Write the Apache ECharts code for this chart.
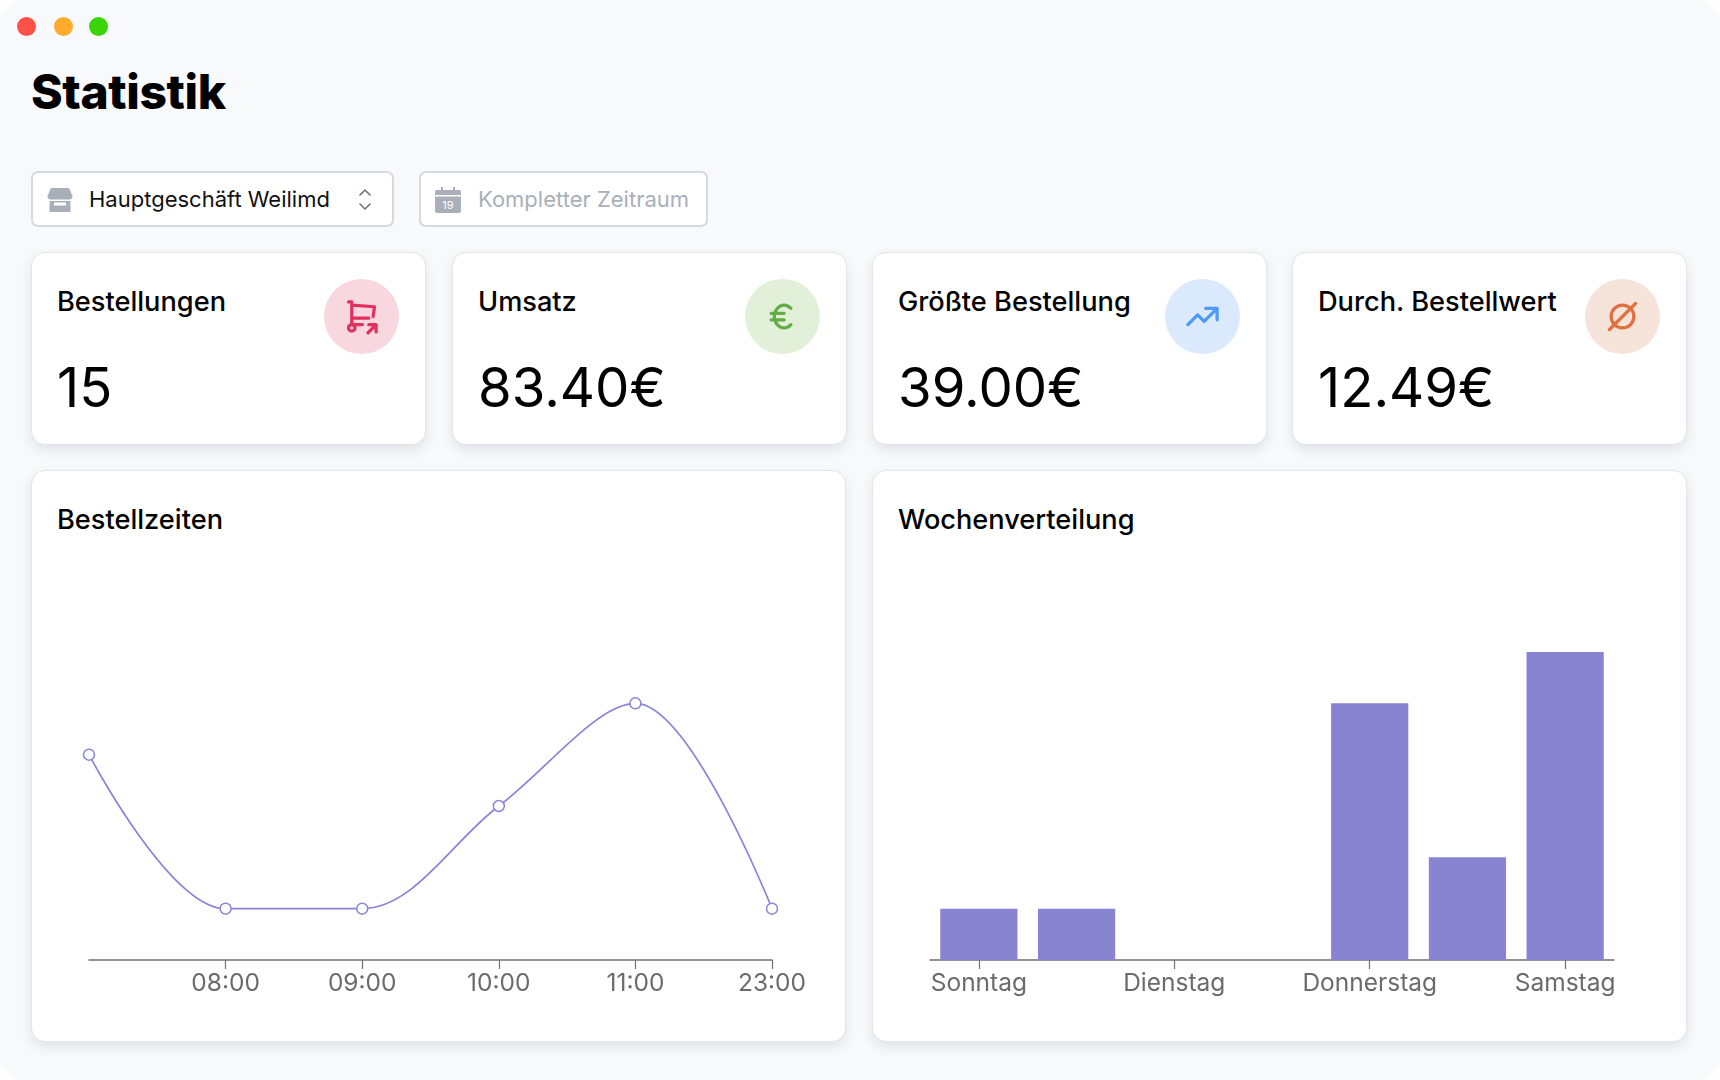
<!DOCTYPE html>
<html lang="de">

<head>
    <meta charset="UTF-8">
    <title>Statistik</title>
    <style>
        * { box-sizing: border-box; margin: 0; padding: 0; }
        html, body { width: 1720px; height: 1080px; background: #fff; overflow: hidden; }
        body { font-family: Inter, "Noto Sans", sans-serif; color: #000; }

        .window { position: absolute; left: 0; top: 0; width: 1720px; height: 1080px; background: #f8f9fb; border-radius: 22px; overflow: hidden; }
        .dot { position: absolute; top: 17px; width: 19px; height: 19px; border-radius: 50%; }
        h1 { position: absolute; left: 31px; top: 64px; font-size: 48px; line-height: 56px; font-weight: 800; letter-spacing: -0.4px; }

        .field { position: absolute; top: 171px; height: 56px; background: #fff; border: 2px solid #d5d9e0; border-radius: 7px; font-size: 22px; line-height: 52px; white-space: nowrap; }
        .field span { position: absolute; top: 0; overflow: hidden; }
        .field svg { position: absolute; }

        .card { position: absolute; background: #fff; border: 1px solid #e3e5ea; border-radius: 14px; box-shadow: 0 5px 12px rgba(30, 40, 60, .1); }
        .card .label { position: absolute; left: 25px; top: 31px; font-size: 27.200px; line-height: 36px; font-weight: 450; white-space: nowrap; }
        .card .value { position: absolute; left: 25px; top: 101px; font-size: 54.500px; line-height: 66px; font-weight: 400; }
        .badge { position: absolute; left: 292px; top: 26px; width: 75px; height: 75px; border-radius: 50%; }
        .badge svg { position: absolute; left: 18px; top: 18px; width: 39px; height: 39px; fill: none; stroke-width: 2; stroke-linecap: round; stroke-linejoin: round; }
        .chart { position: absolute; top: 560px; width: 814px; height: 470px; }
    </style>
    <script src="https://cdn.jsdelivr.net/npm/echarts@6/dist/echarts.min.js"></script>
</head>

<body>
    <div class="window" id="app">
        <div class="dot" style="left:17px;background:#ff5148"></div>
        <div class="dot" style="left:54px;background:#ffab2e"></div>
        <div class="dot" style="left:89px;background:#3ad40a"></div>
        <h1>Statistik</h1>

        <div class="field" style="left:31px;width:363px">
            <svg style="left:14px;top:15px" width="26" height="24" viewBox="0 0 26 24">
                <path d="M4 0h18l3.500 8a3 3 0 0 1-3 3.500H3.500a3 3 0 0 1-3-3.500z" fill="#a9afb9" />
                <path d="M2.500 13h21v11h-21zM7 14.500v3h12v-3z" fill="#a9afb9" fill-rule="evenodd" />
            </svg>
            <span style="left:56px;width:241px;color:#111">Hauptgeschäft Weilimdorf</span>
            <svg style="left:324px;top:16px" width="16" height="21" viewBox="0 0 16 21" fill="none" stroke="#6b7280" stroke-width="1.600" stroke-linecap="round" stroke-linejoin="round">
                <path d="M3 6l5-5 5 5M3 15l5 5 5-5" />
            </svg>
        </div>
        <div class="field" style="left:419px;width:289px">
            <svg style="left:14px;top:14px" width="26" height="26" viewBox="0 0 26 26">
                <path d="M2 3h4V0h2v3h10V0h2v3h4a2 2 0 0 1 2 2v3H0V5a2 2 0 0 1 2-2z" fill="#a9afb9" />
                <path d="M0 9.500h26V24a2 2 0 0 1-2 2H2a2 2 0 0 1-2-2z" fill="#a9afb9" />
                <text x="13" y="22" text-anchor="middle" font-size="11" fill="#fff">19</text>
            </svg>
            <span style="left:57px;color:#a9afb9">Kompletter Zeitraum</span>
        </div>

        <div class="card" style="left:31px;top:470px;width:815px;height:572px">
            <div class="label" id="lineTitle"></div>
        </div>
        <div class="card" style="left:872px;top:470px;width:815px;height:572px">
            <div class="label" id="barTitle"></div>
        </div>
        <div class="chart" id="lineChart" style="left:31px"></div>
        <div class="chart" id="barChart" style="left:873px"></div>
    </div>

    <script>
        // Kennzahlen
        var cardTitles = ['Bestellungen', 'Umsatz', 'Größte Bestellung', 'Durch. Bestellwert'];
        var cardValues = ['15', '83.40€', '39.00€', '12.49€'];

        // Bestellzeiten
        var hourLabels = ['', '08:00', '09:00', '10:00', '11:00', '23:00'];
        var hourCounts = [4, 1, 1, 3, 5, 1];

        // Wochenverteilung
        var weekdayLabels = ['Sonntag', 'Montag', 'Dienstag', 'Mittwoch', 'Donnerstag', 'Freitag', 'Samstag'];
        var weekdayCounts = [1, 1, 0, 0, 5, 2, 6];

        var chartTitles = ['Bestellzeiten', 'Wochenverteilung'];

        var cardLeft = [31, 452, 872, 1292];
        var badgeBg = ['#f8d7de', '#e2f0da', '#dbe9fd', '#f6e3da'];
        var iconColor = ['#e0315f', '#63ad47', '#4c9bf5', '#e0703f'];
        var iconPaths = [
            '<circle cx="6" cy="19" r="2"/><path d="M12.500 17h-6.500v-14h-2M6 5l14 1l-.86 6.017M16.500 13h-10.500M16 22l5-5M21 21.500v-4.500h-4.500"/>',
            '<path d="M17.200 7a6 7 0 1 0 0 10M13 10h-8m0 4h8"/>',
            '<path d="M3 17l6-6l4 4l8-8M14 7h7v7"/>',
            '<circle cx="12" cy="12" r="7"/><path d="M4 20L20 4"/>'
        ];

        // Karten oben
        var app = document.getElementById('app');
        cardTitles.forEach(function (title, i) {
            var card = document.createElement('div');
            card.className = 'card';
            card.style.cssText = 'left:' + cardLeft[i] + 'px;top:252px;width:395px;height:193px';
            card.innerHTML = '<div class="label">' + title + '</div>' +
                '<div class="value">' + cardValues[i] + '</div>' +
                '<div class="badge" style="background:' + badgeBg[i] + '">' +
                '<svg viewBox="0 0 24 24" stroke="' + iconColor[i] + '">' + iconPaths[i] + '</svg></div>';
            app.appendChild(card);
        });
        document.getElementById('lineTitle').textContent = chartTitles[0];
        document.getElementById('barTitle').textContent = chartTitles[1];

        var axisColor = '#707070';
        var labelStyle = { color: '#6b6b6b', fontSize: 24.5, fontFamily: 'Inter', margin: 11 };

        // Liniendiagramm
        var lineChart = echarts.init(document.getElementById('lineChart'));
        lineChart.setOption({
            animation: false,
            grid: { left: 58, width: 683, top: 92, height: 308 },
            xAxis: {
                type: 'category',
                boundaryGap: false,
                data: hourLabels,
                axisLine: { lineStyle: { color: axisColor, width: 1.5 } },
                axisTick: {
                    show: true,
                    length: 9,
                    interval: function (i, label) { return label !== ''; },
                    lineStyle: { color: axisColor, width: 1.2 }
                },
                axisLabel: Object.assign({ interval: 0, showMaxLabel: true }, labelStyle),
                splitLine: { show: false }
            },
            yAxis: { type: 'value', min: 0, max: 6, show: false },
            series: [{
                type: 'line',
                data: hourCounts,
                smooth: 0.34,
                symbol: 'circle',
                symbolSize: 11,
                showAllSymbol: true,
                lineStyle: { color: '#8884d8', width: 1.7 },
                itemStyle: { color: '#fff', borderColor: '#8884d8', borderWidth: 1.5 }
            }]
        });

        // Balkendiagramm
        var barChart = echarts.init(document.getElementById('barChart'));
        barChart.setOption({
            animation: false,
            grid: { left: 57, width: 684, top: 92, height: 308 },
            xAxis: {
                type: 'category',
                data: weekdayLabels,
                axisLine: { lineStyle: { color: axisColor, width: 1.5 } },
                axisTick: { show: true, length: 9, alignWithLabel: true, interval: 1, lineStyle: { color: axisColor, width: 1.2 } },
                axisLabel: Object.assign({ interval: 1 }, labelStyle)
            },
            yAxis: { type: 'value', min: 0, max: 6, show: false },
            series: [{
                type: 'bar',
                data: weekdayCounts,
                barCategoryGap: '21%',
                itemStyle: { color: '#8884d2' }
            }]
        });
    </script>
</body>

</html>
